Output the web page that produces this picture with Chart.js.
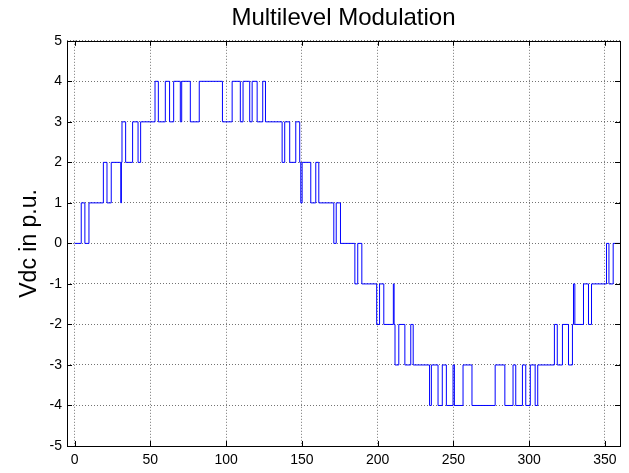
<!DOCTYPE html>
<html lang="en">
  <head>
    <meta charset="UTF-8" />
    <title>Multilevel Modulation</title>
    <script src="https://cdn.jsdelivr.net/npm/chart.js"></script>
    <style>
      body {
        margin: 0;
        padding: 0;
        background: #fff;
      }
      canvas {
        display: block;
      }
    </style>
  </head>
  <body>
    <canvas id="pwmChart" width="629" height="473"></canvas>

    <script>
      // switching angles (degrees) and the level taken from that angle on
      const angles = [
        0, 4.4, 6.8, 9.5, 19.0, 21.4, 24.2, 30.5, 30.9, 31.3, 33.7, 38.3, 41.9,
        43.6, 53.1, 55.3, 59.9, 62.7, 65.4, 69.8, 70.7, 76.4, 82.3, 97.6, 104.0,
        109.4, 111.2, 115.6, 117.2, 120.5, 124.2, 126.0, 137.0, 138.7, 142.0,
        146.0, 148.6, 149.3, 150.2, 155.9, 159.2, 161.2, 171.1, 172.7, 175.5,
        185.0, 186.9, 189.6, 199.4, 201.3, 204.1, 210.4, 210.9, 211.5, 214.0,
        218.0, 221.9, 223.5, 234.3, 235.5, 239.9, 242.7, 245.4, 249.8, 250.7,
        256.4, 262.3, 277.6, 284.0, 289.4, 291.2, 295.6, 297.8, 300.8, 304.0,
        305.7, 316.7, 318.6, 322.0, 326.0, 328.6, 329.3, 330.2, 335.9, 339.2,
        341.2, 351.1, 352.7, 355.5, 360,
      ];
      const levels = [
        0, 1, 0, 1, 2, 1, 2, 1, 2, 3, 2, 3, 2,
        3, 4, 3, 4, 3, 4, 3, 4, 3, 4, 3, 4,
        3, 4, 3, 4, 3, 4, 3, 2, 3, 2,
        3, 2, 1, 2, 1, 2, 1, 0, 1, 0,
        -1, 0, -1, -2, -1, -2, -1, -2, -3, -2,
        -3, -2, -3, -4, -3, -4, -3, -4, -3, -4,
        -3, -4, -3, -4, -3, -4, -3, -4, -3, -4,
        -3, -2, -3, -2, -3, -2, -1, -2, -1, -2,
        -1, 0, -1, 0, 0,
      ];
      const xTicks = [0, 50, 100, 150, 200, 250, 300, 350];
      const yTicks = [-5, -4, -3, -2, -1, 0, 1, 2, 3, 4, 5];

      const points = angles.map((a, i) => ({ x: a, y: levels[i] }));
      const fontFamily = "'Liberation Sans', Arial, sans-serif";

      // matlab style box with inward ticks
      const boxPlugin = {
        id: "box",
        afterDraw(chart) {
          const { ctx, chartArea: a, scales } = chart;
          const len = 5;
          ctx.save();
          ctx.strokeStyle = "#000";
          ctx.lineWidth = 1;
          ctx.beginPath();
          xTicks.forEach((v) => {
            const px = Math.round(scales.x.getPixelForValue(v)) + 0.5;
            ctx.moveTo(px, a.bottom);
            ctx.lineTo(px, a.bottom - len);
            ctx.moveTo(px, a.top);
            ctx.lineTo(px, a.top + len);
          });
          yTicks.forEach((v) => {
            const py = Math.round(scales.y.getPixelForValue(v)) + 0.5;
            ctx.moveTo(a.left, py);
            ctx.lineTo(a.left + len, py);
            ctx.moveTo(a.right, py);
            ctx.lineTo(a.right - len, py);
          });
          ctx.stroke();
          ctx.strokeRect(
            Math.round(a.left) + 0.5,
            Math.round(a.top) + 0.5,
            Math.round(a.right - a.left),
            Math.round(a.bottom - a.top)
          );
          ctx.restore();
        },
      };

      const gridOpts = {
        color: "rgba(0,0,0,0.55)",
        lineWidth: 1,
        drawTicks: false,
      };

      new Chart(document.getElementById("pwmChart"), {
        type: "line",
        data: {
          datasets: [
            {
              data: points,
              borderColor: "#0000ff",
              borderWidth: 1,
              pointRadius: 0,
              stepped: true,
              fill: false,
            },
          ],
        },
        options: {
          responsive: false,
          animation: false,
          devicePixelRatio: 1,
          layout: { padding: { left: 0, right: 9, top: 0, bottom: 0 } },
          plugins: {
            legend: { display: false },
            tooltip: { enabled: false },
            title: {
              display: true,
              fullSize: false,
              text: "Multilevel Modulation",
              color: "#000",
              font: { size: 24, weight: "normal", family: fontFamily },
              padding: { top: 4, bottom: 8 },
            },
          },
          scales: {
            x: {
              type: "linear",
              min: -5,
              max: 360,
              grid: gridOpts,
              border: { display: false, dash: [1, 2] },
              ticks: {
                color: "#000",
                padding: 6,
                maxRotation: 0,
                font: { size: 14, family: fontFamily },
              },
              afterBuildTicks: (s) => {
                s.ticks = xTicks.map((v) => ({ value: v }));
              },
              afterFit: (s) => {
                s.height = 27;
              },
            },
            y: {
              min: -5,
              max: 5,
              grid: gridOpts,
              border: { display: false, dash: [1, 2] },
              ticks: {
                color: "#000",
                padding: 5,
                font: { size: 14, family: fontFamily },
              },
              afterBuildTicks: (s) => {
                s.ticks = yTicks.map((v) => ({ value: v }));
              },
              afterFit: (s) => {
                s.width = 67;
              },
              title: {
                display: true,
                text: "Vdc in p.u.",
                color: "#000",
                font: { size: 23, family: fontFamily },
                padding: { top: 16, bottom: 0 },
              },
            },
          },
        },
        plugins: [boxPlugin],
      });
    </script>
  </body>
</html>
